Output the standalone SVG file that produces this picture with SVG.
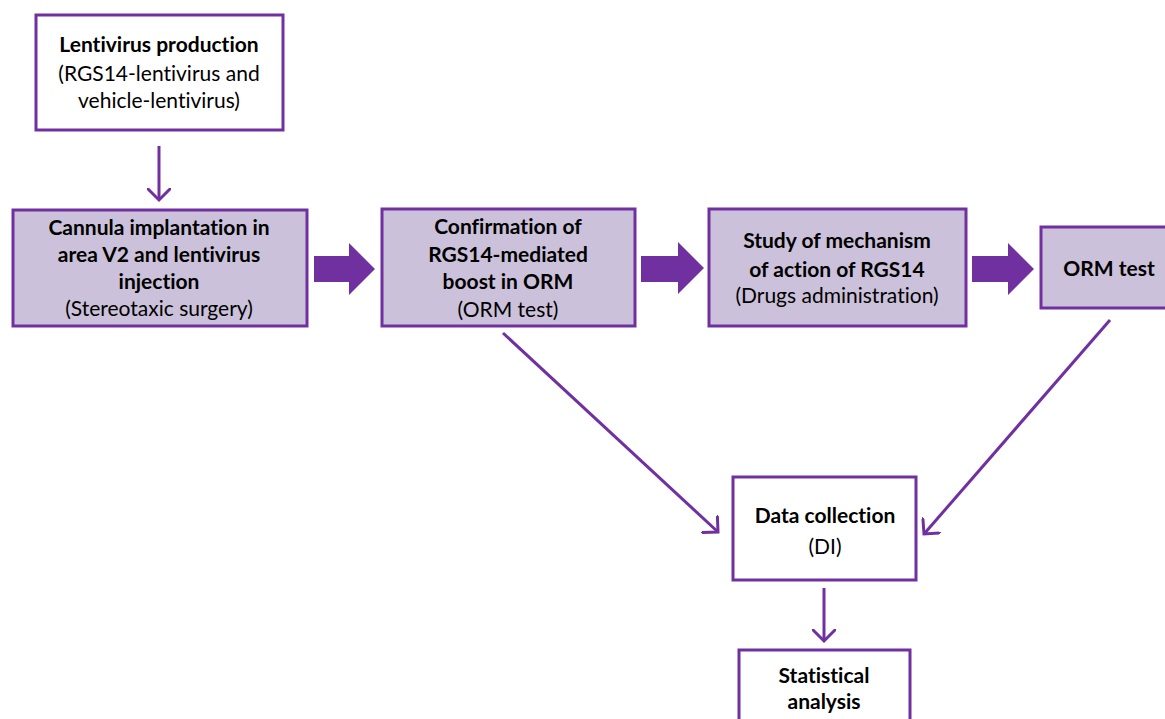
<svg xmlns="http://www.w3.org/2000/svg" width="1165" height="719" viewBox="0 0 1165 719">
<style>
.box{fill:#fff;stroke:#7030A0;stroke-width:3}
.sh{fill:#CCC1DA;stroke:#7030A0;stroke-width:3}
text{font-family:Lato,"Open Sans",sans-serif;font-size:21px;fill:#000;text-anchor:middle;font-variant-ligatures:none;font-feature-settings:"liga" 0}
.b{font-weight:bold}
.ln{stroke:#7030A0;stroke-width:3;fill:none}
.blk{fill:#7030A0}
</style>
<defs>
<marker id="ah" markerWidth="24" markerHeight="24" refX="12" refY="12" orient="auto" markerUnits="userSpaceOnUse">
<path d="M1,1 L12,12 L1,23" fill="none" stroke="#7030A0" stroke-width="3" stroke-linecap="round"/>
</marker>
</defs>
<rect width="1165" height="719" fill="#fff"/>
<g id="lenti">
<rect class="box" x="36" y="15" width="247" height="115"/>
<text x="159" y="52" class="b">Lentivirus production</text>
<text x="159" y="81">(RGS14-lentivirus and</text>
<text x="159" y="108">vehicle-lentivirus)</text>
</g>
<g id="cannula">
<rect class="sh" x="13" y="210" width="294" height="116"/>
<text x="159" y="235" class="b">Cannula implantation  in</text>
<text x="159" y="262" class="b">area V2 and lentivirus</text>
<text x="159" y="289" class="b">injection</text>
<text x="159" y="316">(Stereotaxic surgery)</text>
</g>
<g id="confirm">
<rect class="sh" x="382" y="209" width="253" height="117"/>
<text x="508" y="234" class="b">Confirmation  of</text>
<text x="508" y="262" class="b">RGS14-mediated</text>
<text x="508" y="289" class="b">boost in ORM</text>
<text x="508" y="317">(ORM test)</text>
</g>
<g id="study">
<rect class="sh" x="709" y="209" width="257" height="117"/>
<text x="837" y="248" class="b">Study of mechanism</text>
<text x="837" y="277" class="b">of action of RGS14</text>
<text x="837" y="303">(Drugs administration)</text>
</g>
<g id="orm">
<rect class="sh" x="1041" y="227" width="130" height="81"/>
<text x="1109" y="276" class="b">ORM test</text>
</g>
<g id="data">
<rect class="box" x="733" y="477" width="183" height="103"/>
<text x="825" y="523" class="b">Data collection</text>
<text x="825" y="554">(DI)</text>
</g>
<g id="stat">
<rect class="box" x="739" y="650" width="171" height="80"/>
<text x="824" y="683" class="b">Statistical</text>
<text x="824" y="709" class="b">analysis</text>
</g>
<g id="connectors">
<line class="ln" x1="159" y1="146" x2="159" y2="200" marker-end="url(#ah)"/>
<line class="ln" x1="824" y1="588" x2="824" y2="641" marker-end="url(#ah)"/>
<line class="ln" x1="503" y1="333" x2="718" y2="532" marker-end="url(#ah)"/>
<line class="ln" x1="1110" y1="320" x2="924" y2="534" marker-end="url(#ah)"/>
<polygon class="blk" points="314,256 349,256 349,243 375,269 349,295 349,282 314,282"/>
<polygon class="blk" points="641,256 678,256 678,242 704,268 678,294 678,282 641,282"/>
<polygon class="blk" points="972,256 1008,256 1008,243 1034,269 1008,295 1008,282 972,282"/>
</g>
</svg>
